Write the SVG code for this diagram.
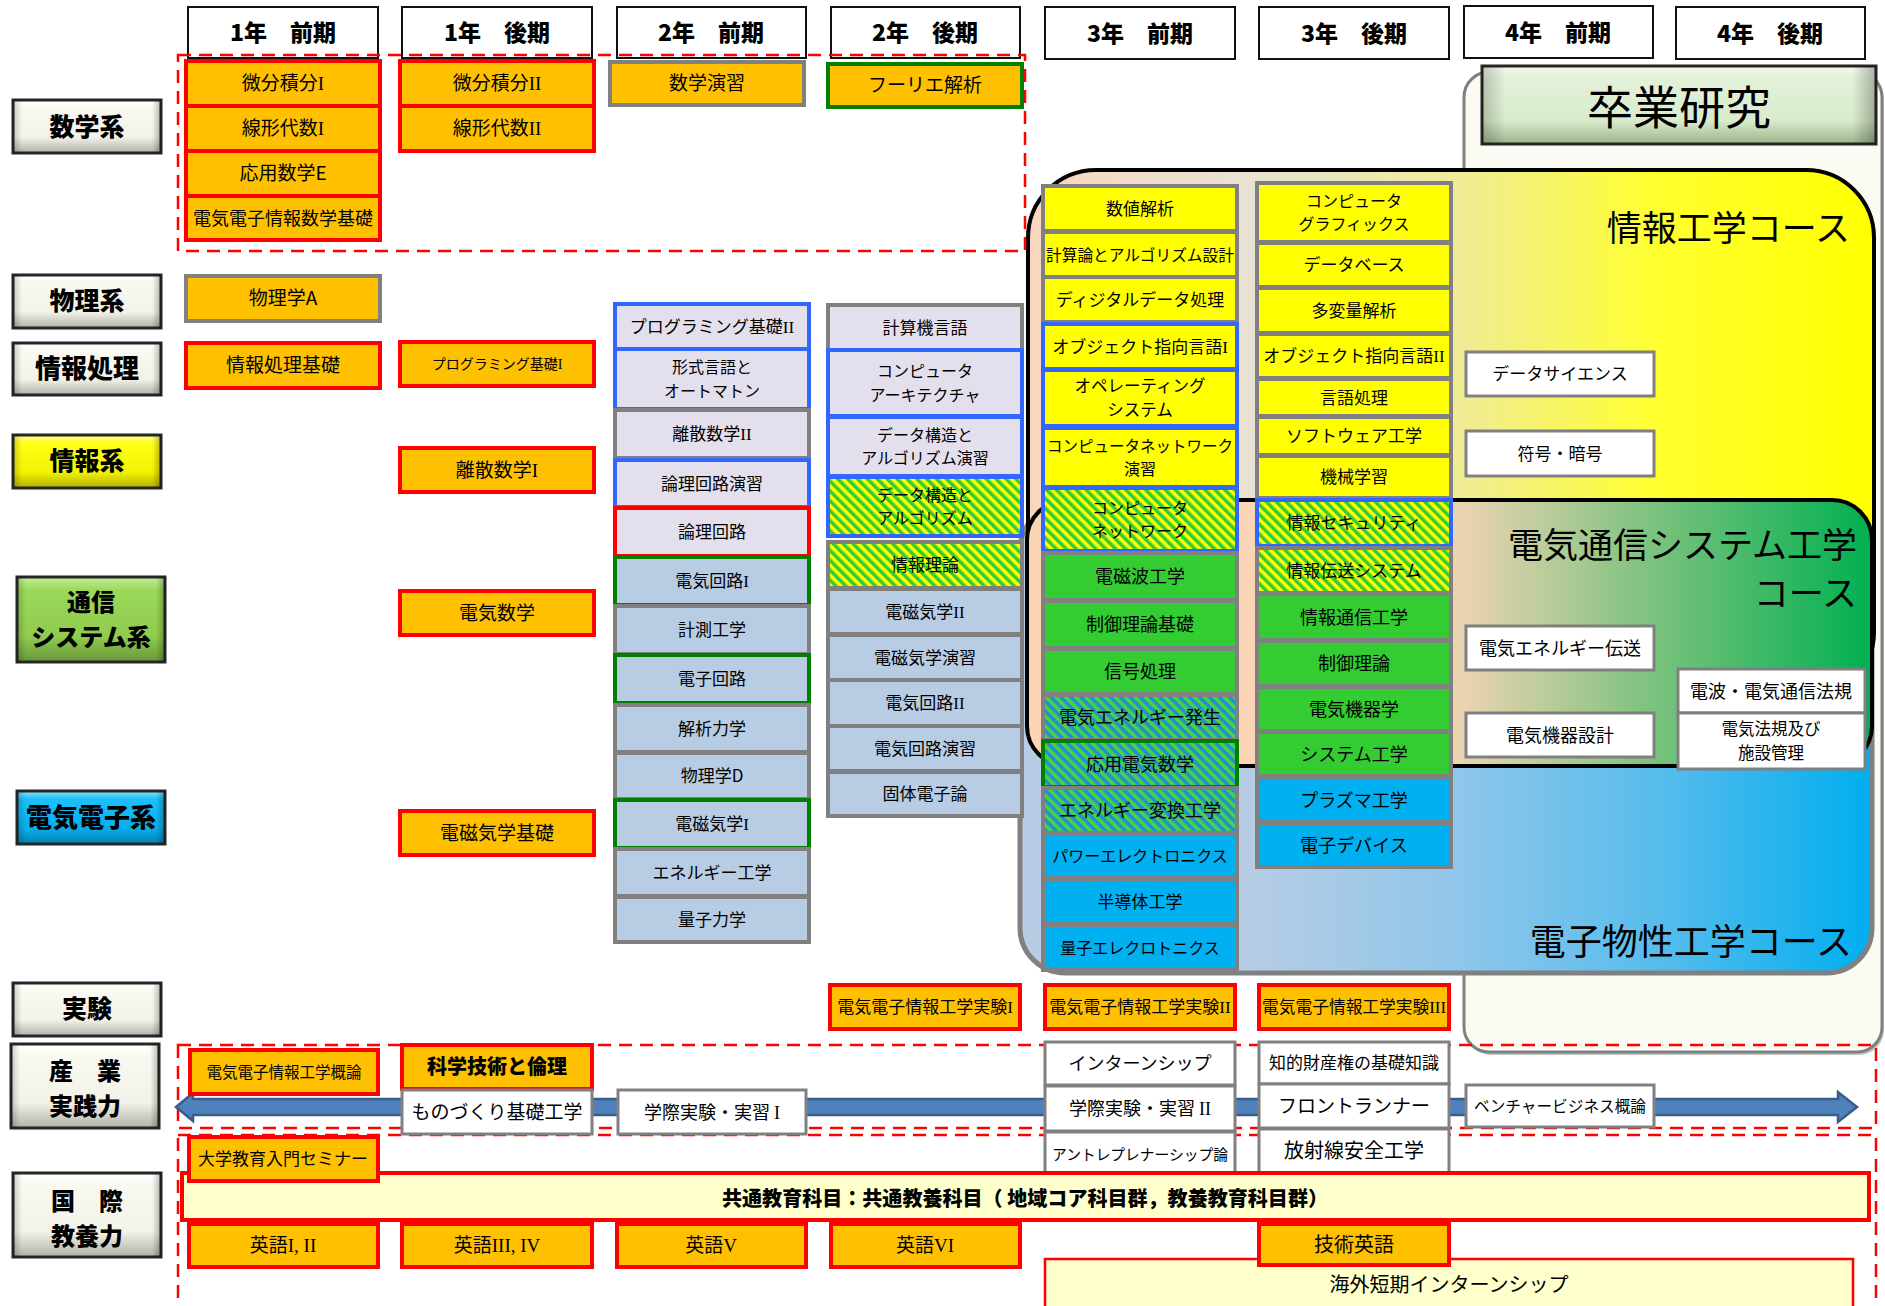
<svg xmlns="http://www.w3.org/2000/svg" width="1885" height="1306" viewBox="0 0 1885 1306">
<style>
.t{font-family:"Noto Sans CJK JP","Noto Sans CJK SC",sans-serif;text-anchor:middle;fill:#000}
.b{font-weight:bold}
.k{font-weight:900}
.rn{font-family:"Liberation Serif",serif}
.hd{fill:#fff;stroke:#111;stroke-width:2}
.lab{stroke:#262626;stroke-width:3}
.sh{fill:url(#side);stroke:none}
.or{fill:#FFC000;stroke:#FF0000;stroke-width:4}
.og{fill:#FFC000;stroke:#808080;stroke-width:4}
.ogr{fill:#FFC000;stroke:#008000;stroke-width:4}
.lb{fill:#E4DFEC;stroke:#3366FF;stroke-width:4}
.lg{fill:#E4DFEC;stroke:#808080;stroke-width:4}
.lr{fill:#E4DFEC;stroke:#FF0000;stroke-width:4}
.bg{fill:#B8CCE4;stroke:#808080;stroke-width:4}
.bgr{fill:#B8CCE4;stroke:#008000;stroke-width:4}
.yg{fill:#FFFF00;stroke:#808080;stroke-width:4}
.yb{fill:#FFFF00;stroke:#3366FF;stroke-width:4}
.hyb{fill:url(#hYG);stroke:#3366FF;stroke-width:4}
.hyg{fill:url(#hYG);stroke:#808080;stroke-width:4}
.gg{fill:#33CC33;stroke:#808080;stroke-width:4}
.hbg{fill:url(#hBG);stroke:#808080;stroke-width:4}
.hbgr{fill:url(#hBG);stroke:#008000;stroke-width:4}
.cg{fill:#00B0F0;stroke:#808080;stroke-width:4}
.wg{fill:#fff;stroke:#808080;stroke-width:3}
.dash{fill:none;stroke:#FF0000;stroke-width:2.5;stroke-dasharray:13 8}
</style>
<defs>
<pattern id="hYG" width="7" height="7" patternUnits="userSpaceOnUse" patternTransform="rotate(-45)"><rect width="7" height="7" fill="#FFFF00"/><rect width="3.5" height="7" fill="#33CC33"/></pattern>
<pattern id="hBG" width="7" height="7" patternUnits="userSpaceOnUse" patternTransform="rotate(-45)"><rect width="7" height="7" fill="#1F8FD6"/><rect width="3.5" height="7" fill="#4CD43C"/></pattern>
<linearGradient id="gCream" x1="0" y1="0" x2="0" y2="1"><stop offset="0" stop-color="#FFFFFF"/><stop offset="0.15" stop-color="#F9F9F1"/><stop offset="0.7" stop-color="#F2F2E9"/><stop offset="1" stop-color="#B0B0A8"/></linearGradient>
<linearGradient id="gYel" x1="0" y1="0" x2="0" y2="1"><stop offset="0" stop-color="#FFFF9A"/><stop offset="0.15" stop-color="#FFFF1A"/><stop offset="0.7" stop-color="#F2F200"/><stop offset="1" stop-color="#B0B000"/></linearGradient>
<linearGradient id="gGrn" x1="0" y1="0" x2="0" y2="1"><stop offset="0" stop-color="#C6EE9E"/><stop offset="0.15" stop-color="#9BD95A"/><stop offset="0.7" stop-color="#90CC4E"/><stop offset="1" stop-color="#68963A"/></linearGradient>
<linearGradient id="gCyan" x1="0" y1="0" x2="0" y2="1"><stop offset="0" stop-color="#8EE0FF"/><stop offset="0.15" stop-color="#1DC0FA"/><stop offset="0.7" stop-color="#07AEEC"/><stop offset="1" stop-color="#0780B0"/></linearGradient>
<linearGradient id="gSotsu" x1="0" y1="0" x2="0" y2="1"><stop offset="0" stop-color="#F2FAEC"/><stop offset="0.15" stop-color="#E3F1D9"/><stop offset="0.7" stop-color="#D9EBCC"/><stop offset="1" stop-color="#9AB48C"/></linearGradient>
<linearGradient id="side" x1="0" y1="0" x2="1" y2="0"><stop offset="0" stop-color="#000" stop-opacity="0.2"/><stop offset="0.06" stop-color="#000" stop-opacity="0"/><stop offset="0.94" stop-color="#000" stop-opacity="0"/><stop offset="1" stop-color="#000" stop-opacity="0.28"/></linearGradient>
<linearGradient id="gInfo" gradientUnits="userSpaceOnUse" x1="1028" y1="0" x2="1876" y2="0"><stop offset="0" stop-color="#F9D6BE"/><stop offset="0.26" stop-color="#E9E2D3"/><stop offset="0.5" stop-color="#EFEB9A"/><stop offset="0.74" stop-color="#FFFF30"/><stop offset="1" stop-color="#FFFF00"/></linearGradient>
<linearGradient id="gTel" gradientUnits="userSpaceOnUse" x1="1027" y1="0" x2="1872" y2="0"><stop offset="0" stop-color="#FCD5B5"/><stop offset="0.26" stop-color="#FBD5B6"/><stop offset="0.52" stop-color="#E9D3B0"/><stop offset="0.74" stop-color="#7CC27E"/><stop offset="1" stop-color="#00B050"/></linearGradient>
<linearGradient id="gEle" gradientUnits="userSpaceOnUse" x1="1020" y1="0" x2="1872" y2="0"><stop offset="0" stop-color="#B8CCE4"/><stop offset="0.27" stop-color="#B6CCE4"/><stop offset="0.52" stop-color="#8EC6EA"/><stop offset="0.75" stop-color="#57BCEC"/><stop offset="1" stop-color="#00AEEF"/></linearGradient>
</defs>

<!-- semester headers -->
<g id="headers">
<g id="h1a"><rect class="hd" x="188" y="7" width="190" height="51"/><text class="t k" x="283" y="41" font-size="23">1年　前期</text></g>
<g id="h1b"><rect class="hd" x="402" y="7" width="190" height="51"/><text class="t k" x="497" y="41" font-size="23">1年　後期</text></g>
<g id="h2a"><rect class="hd" x="617" y="7" width="189" height="51"/><text class="t k" x="711" y="41" font-size="23">2年　前期</text></g>
<g id="h2b"><rect class="hd" x="831" y="7" width="189" height="51"/><text class="t k" x="925" y="41" font-size="23">2年　後期</text></g>
<g id="h3a"><rect class="hd" x="1045" y="7" width="190" height="52"/><text class="t k" x="1140" y="42" font-size="23">3年　前期</text></g>
<g id="h3b"><rect class="hd" x="1259" y="7" width="190" height="52"/><text class="t k" x="1354" y="42" font-size="23">3年　後期</text></g>
<g id="h4a"><rect class="hd" x="1464" y="6" width="189" height="52"/><text class="t k" x="1558" y="41" font-size="23">4年　前期</text></g>
<g id="h4b"><rect class="hd" x="1676" y="7" width="189" height="52"/><text class="t k" x="1770" y="42" font-size="23">4年　後期</text></g>
</g>

<!-- category labels -->
<g id="cat-math"><rect class="lab" x="13" y="100" width="148" height="53" fill="url(#gCream)"/><rect class="sh" x="13" y="100" width="148" height="53"/><text class="t k" x="87" y="136" font-size="25">数学系</text></g>
<g id="cat-phys"><rect class="lab" x="13" y="275" width="148" height="53" fill="url(#gCream)"/><rect class="sh" x="13" y="275" width="148" height="53"/><text class="t k" x="87" y="310" font-size="25">物理系</text></g>
<g id="cat-infoproc"><rect class="lab" x="13" y="343" width="148" height="52" fill="url(#gCream)"/><rect class="sh" x="13" y="343" width="148" height="52"/><text class="t k" x="87" y="378" font-size="26">情報処理</text></g>
<g id="cat-info"><rect class="lab" x="13" y="435" width="148" height="53" fill="url(#gYel)"/><rect class="sh" x="13" y="435" width="148" height="53"/><text class="t k" x="87" y="470" font-size="25">情報系</text></g>
<g id="cat-tel"><rect class="lab" x="17" y="577" width="148" height="85" fill="url(#gGrn)"/><rect class="sh" x="17" y="577" width="148" height="85"/><text class="t k" font-size="24"><tspan x="91" y="611">通信</tspan><tspan x="91" y="646">システム系</tspan></text></g>
<g id="cat-ee"><rect class="lab" x="17" y="791" width="148" height="53" fill="url(#gCyan)"/><rect class="sh" x="17" y="791" width="148" height="53"/><text class="t k" x="91" y="827" font-size="26">電気電子系</text></g>
<g id="cat-exp"><rect class="lab" x="13" y="983" width="148" height="53" fill="url(#gCream)"/><rect class="sh" x="13" y="983" width="148" height="53"/><text class="t k" x="87" y="1018" font-size="25">実験</text></g>
<g id="cat-ind"><rect class="lab" x="11" y="1044" width="148" height="84" fill="url(#gCream)"/><rect class="sh" x="11" y="1044" width="148" height="84"/><text class="t k" font-size="24"><tspan x="85" y="1080">産　業</tspan><tspan x="85" y="1115">実践力</tspan></text></g>
<g id="cat-intl"><rect class="lab" x="13" y="1173" width="148" height="84" fill="url(#gCream)"/><rect class="sh" x="13" y="1173" width="148" height="84"/><text class="t k" font-size="24"><tspan x="87" y="1210">国　際</tspan><tspan x="87" y="1245">教養力</tspan></text></g>

<!-- graduation research & course areas -->
<g id="sotsuken-area">
<rect x="1466" y="75" width="418" height="980" rx="25" fill="#888" opacity="0.5"/>
<rect x="1464" y="72" width="418" height="980" rx="25" fill="#FBFBF4" stroke="#808080" stroke-width="3"/>
</g>
<g id="sotsuken"><rect x="1482" y="66" width="394" height="78" fill="url(#gSotsu)" stroke="#262626" stroke-width="3"/><rect class="sh" x="1482" y="66" width="394" height="78"/><text class="t" x="1679" y="124" font-size="46">卒業研究</text></g>
<g id="course-ele"><rect x="1020" y="505" width="852" height="468" rx="45" fill="url(#gEle)" stroke="#808080" stroke-width="5"/><text class="t" x="1852" y="955" font-size="36" style="text-anchor:end">電子物性工学コース</text></g>
<g id="course-info"><rect x="1028" y="170" width="846" height="530" rx="68" fill="url(#gInfo)" stroke="#000" stroke-width="4"/><text class="t" x="1850" y="241" font-size="35" style="text-anchor:end">情報工学コース</text></g>
<g id="course-tel"><rect x="1027" y="500" width="845" height="266" rx="40" fill="url(#gTel)" stroke="#000" stroke-width="4"/><text class="t" font-size="35" style="text-anchor:end"><tspan x="1857" y="558">電気通信システム工学</tspan><tspan x="1857" y="606">コース</tspan></text></g>

<!-- dashed regions -->
<g id="regions">
<rect class="dash" x="178" y="55" width="847" height="196"/>
<rect class="dash" x="178" y="1045" width="1698" height="83"/>
<rect class="dash" x="178" y="1135" width="1698" height="200"/>
</g>

<!-- connectors -->
<g id="connectors">
<polygon points="176,1107 193,1093 193,1099 1838,1099 1838,1092 1857,1107 1838,1122 1838,1115 193,1115 193,1121" fill="#4F81BD" stroke="#385D8A" stroke-width="2.5"/>
</g>

<!-- 1年前期 -->
<g id="c1">
<g id="n-bibun1"><rect class="or" x="186" y="61" width="194" height="45"/><text class="t" x="283" y="90" font-size="19">微分積分<tspan class="rn">I</tspan></text></g>
<g id="n-senkei1"><rect class="or" x="186" y="106" width="194" height="45"/><text class="t" x="283" y="135" font-size="19">線形代数<tspan class="rn">I</tspan></text></g>
<g id="n-ouyouE"><rect class="or" x="186" y="151" width="194" height="45"/><text class="t" x="283" y="180" font-size="19">応用数学E</text></g>
<g id="n-sugakukiso"><rect class="or" x="186" y="196" width="194" height="44"/><text class="t" x="283" y="224.5" font-size="18">電気電子情報数学基礎</text></g>
<g id="n-butsuriA"><rect class="og" x="186" y="276" width="194" height="45"/><text class="t" x="283" y="305" font-size="19">物理学A</text></g>
<g id="n-johokiso"><rect class="or" x="186" y="343" width="194" height="45"/><text class="t" x="283" y="372" font-size="19">情報処理基礎</text></g>
</g>

<!-- 1年後期 -->
<g id="c2">
<g id="n-bibun2"><rect class="or" x="400" y="61" width="194" height="45"/><text class="t" x="497" y="90" font-size="19">微分積分<tspan class="rn">II</tspan></text></g>
<g id="n-senkei2"><rect class="or" x="400" y="106" width="194" height="45"/><text class="t" x="497" y="135" font-size="19">線形代数<tspan class="rn">II</tspan></text></g>
<g id="n-prog1"><rect class="or" x="400" y="342" width="194" height="44"/><text class="t" x="497" y="369" font-size="14">プログラミング基礎<tspan class="rn">I</tspan></text></g>
<g id="n-risan1"><rect class="or" x="400" y="448" width="194" height="44"/><text class="t" x="497" y="477" font-size="19">離散数学<tspan class="rn">I</tspan></text></g>
<g id="n-denkisugaku"><rect class="or" x="400" y="591" width="194" height="44"/><text class="t" x="497" y="620" font-size="19">電気数学</text></g>
<g id="n-denjikiso"><rect class="or" x="400" y="811" width="194" height="44"/><text class="t" x="497" y="840" font-size="19">電磁気学基礎</text></g>
</g>

<!-- 2年前期 -->
<g id="c3">
<g id="n-sugakuenshu"><rect class="og" x="610" y="62" width="194" height="43"/><text class="t" x="707" y="90" font-size="19">数学演習</text></g>
<g id="n-prog2"><rect class="lb" x="615" y="304" width="194" height="45"/><text class="t" x="712" y="332.5" font-size="17">プログラミング基礎<tspan class="rn">II</tspan></text></g>
<g id="n-keishiki"><rect class="lb" x="615" y="349" width="194" height="60"/><text class="t" font-size="16"><tspan x="712" y="373">形式言語と</tspan><tspan x="712" y="396.5">オートマトン</tspan></text></g>
<g id="n-risan2"><rect class="lg" x="615" y="410" width="194" height="48"/><text class="t" x="712" y="440" font-size="17">離散数学<tspan class="rn">II</tspan></text></g>
<g id="n-ronrienshu"><rect class="lb" x="615" y="460" width="194" height="47"/><text class="t" x="712" y="489.5" font-size="17">論理回路演習</text></g>
<g id="n-ronri"><rect class="lr" x="615" y="508" width="194" height="48"/><text class="t" x="712" y="538" font-size="17">論理回路</text></g>
<g id="n-denki1"><rect class="bgr" x="615" y="557" width="194" height="48"/><text class="t" x="712" y="587" font-size="17">電気回路<tspan class="rn">I</tspan></text></g>
<g id="n-keisoku"><rect class="bg" x="615" y="606" width="194" height="48"/><text class="t" x="712" y="636" font-size="17">計測工学</text></g>
<g id="n-denshikairo"><rect class="bgr" x="615" y="655" width="194" height="48"/><text class="t" x="712" y="685" font-size="17">電子回路</text></g>
<g id="n-kaiseki"><rect class="bg" x="615" y="705" width="194" height="47"/><text class="t" x="712" y="734.5" font-size="17">解析力学</text></g>
<g id="n-butsuriD"><rect class="bg" x="615" y="753" width="194" height="46"/><text class="t" x="712" y="782" font-size="17">物理学D</text></g>
<g id="n-denji1"><rect class="bgr" x="615" y="800" width="194" height="48"/><text class="t" x="712" y="830" font-size="17">電磁気学<tspan class="rn">I</tspan></text></g>
<g id="n-energy"><rect class="bg" x="615" y="849" width="194" height="47"/><text class="t" x="712" y="878.5" font-size="17">エネルギー工学</text></g>
<g id="n-ryoshi"><rect class="bg" x="615" y="897" width="194" height="45"/><text class="t" x="712" y="925.5" font-size="17">量子力学</text></g>
</g>

<!-- 2年後期 -->
<g id="c4">
<g id="n-fourier"><rect class="ogr" x="828" y="64" width="194" height="43"/><text class="t" x="925" y="92" font-size="19">フーリエ解析</text></g>
<g id="n-keisanki"><rect class="lg" x="828" y="305" width="194" height="45"/><text class="t" x="925" y="333.5" font-size="17">計算機言語</text></g>
<g id="n-arch"><rect class="lb" x="828" y="350" width="194" height="66"/><text class="t" font-size="16"><tspan x="925" y="377">コンピュータ</tspan><tspan x="925" y="400.5">アーキテクチャ</tspan></text></g>
<g id="n-dsenshu"><rect class="lb" x="828" y="417" width="194" height="59"/><text class="t" font-size="16"><tspan x="925" y="440.5">データ構造と</tspan><tspan x="925" y="464">アルゴリズム演習</tspan></text></g>
<g id="n-ds"><rect class="hyb" x="828" y="477" width="194" height="59"/><text class="t" font-size="16"><tspan x="925" y="500.5">データ構造と</tspan><tspan x="925" y="524">アルゴリズム</tspan></text></g>
<g id="n-johoriron"><rect class="hyg" x="828" y="542" width="194" height="46"/><text class="t" x="925" y="571" font-size="17">情報理論</text></g>
<g id="n-denji2"><rect class="bg" x="828" y="589" width="194" height="45"/><text class="t" x="925" y="617.5" font-size="17">電磁気学<tspan class="rn">II</tspan></text></g>
<g id="n-denjienshu"><rect class="bg" x="828" y="635" width="194" height="45"/><text class="t" x="925" y="663.5" font-size="17">電磁気学演習</text></g>
<g id="n-denki2"><rect class="bg" x="828" y="680" width="194" height="46"/><text class="t" x="925" y="709" font-size="17">電気回路<tspan class="rn">II</tspan></text></g>
<g id="n-denkienshu"><rect class="bg" x="828" y="726" width="194" height="45"/><text class="t" x="925" y="754.5" font-size="17">電気回路演習</text></g>
<g id="n-kotai"><rect class="bg" x="828" y="772" width="194" height="44"/><text class="t" x="925" y="800" font-size="17">固体電子論</text></g>
</g>

<!-- 3年前期 -->
<g id="c5">
<g id="n-suchi"><rect class="yg" x="1043" y="186" width="194" height="45"/><text class="t" x="1140" y="214.5" font-size="17">数値解析</text></g>
<g id="n-keisanron"><rect class="yg" x="1043" y="232" width="194" height="45"/><text class="t" x="1140" y="260.5" font-size="16" textLength="188" lengthAdjust="spacingAndGlyphs">計算論とアルゴリズム設計</text></g>
<g id="n-digital"><rect class="yg" x="1043" y="277" width="194" height="45"/><text class="t" x="1140" y="305.5" font-size="17">ディジタルデータ処理</text></g>
<g id="n-oop1"><rect class="yb" x="1043" y="324" width="194" height="45"/><text class="t" x="1140" y="352.5" font-size="17">オブジェクト指向言語<tspan class="rn">I</tspan></text></g>
<g id="n-os"><rect class="yb" x="1043" y="370" width="194" height="56"/><text class="t" font-size="16.5"><tspan x="1140" y="392">オペレーティング</tspan><tspan x="1140" y="415.5">システム</tspan></text></g>
<g id="n-netenshu"><rect class="yb" x="1043" y="428" width="194" height="59"/><text class="t" font-size="16"><tspan x="1140" y="451.5" textLength="186" lengthAdjust="spacingAndGlyphs">コンピュータネットワーク</tspan><tspan x="1140" y="475">演習</tspan></text></g>
<g id="n-net"><rect class="hyb" x="1043" y="488" width="194" height="63"/><text class="t" font-size="16"><tspan x="1140" y="513.5">コンピュータ</tspan><tspan x="1140" y="537">ネットワーク</tspan></text></g>
<g id="n-denjiha"><rect class="gg" x="1043" y="553" width="194" height="47"/><text class="t" x="1140" y="583" font-size="18">電磁波工学</text></g>
<g id="n-seigyokiso"><rect class="gg" x="1043" y="601" width="194" height="47"/><text class="t" x="1140" y="631" font-size="18">制御理論基礎</text></g>
<g id="n-shingo"><rect class="gg" x="1043" y="649" width="194" height="45"/><text class="t" x="1140" y="678" font-size="18">信号処理</text></g>
<g id="n-hassei"><rect class="hbg" x="1043" y="695" width="194" height="45"/><text class="t" x="1140" y="724" font-size="18">電気エネルギー発生</text></g>
<g id="n-ouyoudenki"><rect class="hbgr" x="1043" y="741" width="194" height="46"/><text class="t" x="1140" y="770.5" font-size="18">応用電気数学</text></g>
<g id="n-henkan"><rect class="hbg" x="1043" y="788" width="194" height="45"/><text class="t" x="1140" y="817" font-size="18">エネルギー変換工学</text></g>
<g id="n-powerele"><rect class="cg" x="1043" y="834" width="194" height="44"/><text class="t" x="1140" y="862" font-size="16">パワーエレクトロニクス</text></g>
<g id="n-handotai"><rect class="cg" x="1043" y="879" width="194" height="45"/><text class="t" x="1140" y="907.5" font-size="17">半導体工学</text></g>
<g id="n-ryoshiele"><rect class="cg" x="1043" y="925" width="194" height="45"/><text class="t" x="1140" y="953.5" font-size="16">量子エレクロトニクス</text></g>
</g>

<!-- 3年後期 -->
<g id="c6">
<g id="n-cg"><rect class="yg" x="1257" y="183" width="194" height="59"/><text class="t" font-size="16"><tspan x="1354" y="206.5">コンピュータ</tspan><tspan x="1354" y="230">グラフィックス</tspan></text></g>
<g id="n-db"><rect class="yg" x="1257" y="243" width="194" height="44"/><text class="t" x="1354" y="271" font-size="17">データベース</text></g>
<g id="n-tahenryo"><rect class="yg" x="1257" y="288" width="194" height="45"/><text class="t" x="1354" y="316.5" font-size="17">多変量解析</text></g>
<g id="n-oop2"><rect class="yg" x="1257" y="334" width="194" height="44"/><text class="t" x="1354" y="362" font-size="17">オブジェクト指向言語<tspan class="rn">II</tspan></text></g>
<g id="n-gengo"><rect class="yg" x="1257" y="379" width="194" height="37"/><text class="t" x="1354" y="403.5" font-size="17">言語処理</text></g>
<g id="n-software"><rect class="yg" x="1257" y="417" width="194" height="38"/><text class="t" x="1354" y="442" font-size="17">ソフトウェア工学</text></g>
<g id="n-ml"><rect class="yg" x="1257" y="456" width="194" height="42"/><text class="t" x="1354" y="483" font-size="17">機械学習</text></g>
<g id="n-security"><rect class="hyb" x="1257" y="500" width="194" height="46"/><text class="t" x="1354" y="529" font-size="17">情報セキュリティ</text></g>
<g id="n-densou"><rect class="hyg" x="1257" y="548" width="194" height="45"/><text class="t" x="1354" y="576.5" font-size="17">情報伝送システム</text></g>
<g id="n-tsushin"><rect class="gg" x="1257" y="594" width="194" height="46"/><text class="t" x="1354" y="623.5" font-size="18">情報通信工学</text></g>
<g id="n-seigyo"><rect class="gg" x="1257" y="641" width="194" height="45"/><text class="t" x="1354" y="670" font-size="18">制御理論</text></g>
<g id="n-kikigaku"><rect class="gg" x="1257" y="687" width="194" height="44"/><text class="t" x="1354" y="715.5" font-size="18">電気機器学</text></g>
<g id="n-system"><rect class="gg" x="1257" y="732" width="194" height="44"/><text class="t" x="1354" y="760.5" font-size="18">システム工学</text></g>
<g id="n-plasma"><rect class="cg" x="1257" y="778" width="194" height="44"/><text class="t" x="1354" y="806.5" font-size="18">プラズマ工学</text></g>
<g id="n-device"><rect class="cg" x="1257" y="823" width="194" height="44"/><text class="t" x="1354" y="851.5" font-size="18">電子デバイス</text></g>
</g>

<!-- 4年 -->
<g id="c7">
<g id="n-datasci"><rect class="wg" x="1466" y="352" width="188" height="44"/><text class="t" x="1560" y="380" font-size="17">データサイエンス</text></g>
<g id="n-fugo"><rect class="wg" x="1466" y="431" width="188" height="45"/><text class="t" x="1560" y="459.5" font-size="17">符号・暗号</text></g>
<g id="n-densoE"><rect class="wg" x="1466" y="626" width="188" height="44"/><text class="t" x="1560" y="654.5" font-size="18">電気エネルギー伝送</text></g>
<g id="n-kikisekkei"><rect class="wg" x="1466" y="713" width="188" height="44"/><text class="t" x="1560" y="741.5" font-size="18">電気機器設計</text></g>
</g>
<g id="c8">
<g id="n-dempa"><rect class="wg" x="1678" y="669" width="187" height="44"/><text class="t" x="1771" y="697.5" font-size="18">電波・電気通信法規</text></g>
<g id="n-hoki"><rect class="wg" x="1678" y="713" width="187" height="56"/><text class="t" font-size="16.5"><tspan x="1771" y="735">電気法規及び</tspan><tspan x="1771" y="759">施設管理</tspan></text></g>
</g>

<!-- 実験 -->
<g id="exp">
<g id="n-exp1"><rect class="or" x="830" y="985" width="190" height="44"/><text class="t" x="925" y="1013" font-size="17">電気電子情報工学実験<tspan class="rn">I</tspan></text></g>
<g id="n-exp2"><rect class="or" x="1045" y="985" width="190" height="44"/><text class="t" x="1140" y="1013" font-size="17">電気電子情報工学実験<tspan class="rn">II</tspan></text></g>
<g id="n-exp3"><rect class="or" x="1259" y="985" width="190" height="44"/><text class="t" x="1354" y="1013" font-size="17" textLength="184" lengthAdjust="spacingAndGlyphs">電気電子情報工学実験<tspan class="rn">III</tspan></text></g>
</g>

<!-- 産業実践力 -->
<g id="industry">
<g id="n-gairon"><rect class="or" x="190" y="1050" width="188" height="44"/><text class="t" x="284" y="1077.5" font-size="15.5">電気電子情報工学概論</text></g>
<g id="n-rinri"><rect class="or" x="402" y="1045" width="190" height="44"/><text class="t k" x="497" y="1074" font-size="20">科学技術と倫理</text></g>
<g id="n-monozukuri"><rect class="wg" x="402" y="1090" width="190" height="44"/><text class="t" x="497" y="1119" font-size="19">ものづくり基礎工学</text></g>
<g id="n-gakusai1"><rect class="wg" x="618" y="1090" width="188" height="44"/><text class="t" x="712" y="1118.5" font-size="18">学際実験・実習 <tspan class="rn">I</tspan></text></g>
<g id="n-intern"><rect class="wg" x="1045" y="1042" width="190" height="43"/><text class="t" x="1140" y="1070" font-size="18">インターンシップ</text></g>
<g id="n-gakusai2"><rect class="wg" x="1045" y="1086" width="190" height="45"/><text class="t" x="1140" y="1115" font-size="18">学際実験・実習 <tspan class="rn">II</tspan></text></g>
<g id="n-entre"><rect class="wg" x="1045" y="1132" width="190" height="44"/><text class="t" x="1140" y="1159.5" font-size="15" textLength="176" lengthAdjust="spacingAndGlyphs">アントレプレナーシップ論</text></g>
<g id="n-chizai"><rect class="wg" x="1259" y="1042" width="190" height="42"/><text class="t" x="1354" y="1069" font-size="17">知的財産権の基礎知識</text></g>
<g id="n-front"><rect class="wg" x="1259" y="1084" width="190" height="44"/><text class="t" x="1354" y="1113" font-size="19">フロントランナー</text></g>
<g id="n-hoshasen"><rect class="wg" x="1259" y="1129" width="190" height="44"/><text class="t" x="1354" y="1158" font-size="20">放射線安全工学</text></g>
<g id="n-venture"><rect class="wg" x="1466" y="1085" width="188" height="42"/><text class="t" x="1560" y="1112" font-size="16" textLength="172" lengthAdjust="spacingAndGlyphs">ベンチャービジネス概論</text></g>
</g>

<!-- 国際教養力 -->
<g id="international">
<g id="n-kyotsu"><rect x="182" y="1173" width="1687" height="47" fill="#FFFFCC" stroke="#FF0000" stroke-width="4"/><text class="t k" x="1025" y="1206" font-size="20" textLength="606" lengthAdjust="spacingAndGlyphs">共通教育科目：共通教養科目（ 地域コア科目群，教養教育科目群）</text></g>
<g id="n-seminar"><rect class="or" x="189" y="1137" width="189" height="44"/><text class="t" x="283" y="1165" font-size="17">大学教育入門セミナー</text></g>
<g id="n-eigo12"><rect class="or" x="189" y="1224" width="189" height="43"/><text class="t" x="283" y="1252" font-size="19">英語<tspan class="rn">I, II</tspan></text></g>
<g id="n-eigo34"><rect class="or" x="402" y="1224" width="190" height="43"/><text class="t" x="497" y="1252" font-size="19">英語<tspan class="rn">III, IV</tspan></text></g>
<g id="n-eigo5"><rect class="or" x="617" y="1224" width="189" height="43"/><text class="t" x="711" y="1252" font-size="19">英語<tspan class="rn">V</tspan></text></g>
<g id="n-eigo6"><rect class="or" x="831" y="1224" width="189" height="43"/><text class="t" x="925" y="1252" font-size="19">英語<tspan class="rn">VI</tspan></text></g>
<g id="n-kaigai"><rect x="1045" y="1259" width="808" height="60" fill="#FFFFCC" stroke="#FF0000" stroke-width="2.5"/><text class="t" x="1449" y="1292" font-size="20">海外短期インターンシップ</text></g>
<g id="n-gijutsu"><rect class="or" x="1259" y="1224" width="190" height="41"/><text class="t" x="1354" y="1251.5" font-size="20">技術英語</text></g>
</g>
</svg>
